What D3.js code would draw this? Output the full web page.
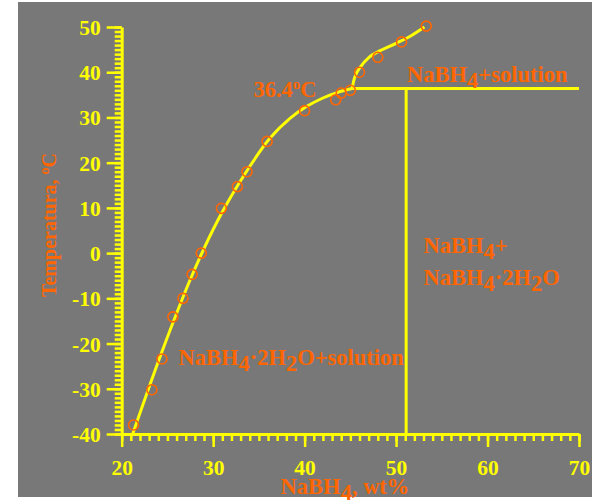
<!DOCTYPE html>
<html>
<head>
<meta charset="utf-8">
<script src="https://cdn.jsdelivr.net/npm/d3@7"></script>
<style>
  body { margin: 0; background: #fff; }
  text { font-family: "Liberation Serif", "Times New Roman", serif; font-weight: bold; }
</style>
</head>
<body>
<script>
const W = 597, H = 501;

// measured points (wt% NaBH4, temperature °C)
const ptX = [21.3, 23.3, 24.4, 25.6, 26.7, 27.7, 28.7, 30.9, 32.65, 33.7, 35.9, 40.0, 43.4, 44.0, 45.0, 46.0, 48.0, 50.6, 53.3];
const ptY = [-38, -30.2, -23.4, -14.1, -10, -4.7, 0, 9.9, 14.7, 18, 24.7, 31.5, 33.9, 35.4, 36, 40, 43.3, 46.7, 50.2];

// liquidus of the dihydrate (left branch) and of NaBH4 (right branch)
const dihydX = [21.2, 24.4, 27.8, 30.6, 33.5, 36.2, 38.4, 40.2, 42.0, 43.7, 45.2];
const dihydY = [-40, -21.8, -4.4, 7.6, 17.6, 25.4, 29.8, 32.4, 34.3, 35.6, 36.4];
const anhX = [45.2, 45.5, 46.0, 47.1, 48.0, 50.0, 51.5, 53.1];
const anhY = [36.4, 39.0, 40.9, 43.4, 44.5, 46.4, 47.9, 50.0];

// peritectic line and dihydrate composition line
const periT = 36.4;
const periX = [45.2, 70];
const dihydComp = 51.1;

const xTicks = [20, 30, 40, 50, 60, 70];
const yTicks = [-40, -30, -20, -10, 0, 10, 20, 30, 40, 50];

const yellow = '#ffff00', orange = '#ff6600';

let svg = d3.select('body').append('svg')
    .attr('width', W)
    .attr('height', H);

svg.append('rect')
    .attr('x', 18).attr('y', 2)
    .attr('width', 574).attr('height', 495)
    .attr('fill', '#787878');

let x = d3.scaleLinear().domain([20, 70]).range([121.7, 579]);
let y = d3.scaleLinear().domain([-40, 50]).range([434, 27]);

// minor ticks
svg.append('g')
    .attr('transform', `translate(0,${y(-40)})`)
    .call(d3.axisBottom(x).tickValues(d3.range(20, 71, 1)).tickSize(7).tickSizeOuter(0).tickFormat(''))
    .call(g => g.select('.domain').remove());
svg.append('g')
    .attr('transform', `translate(${x(20)},0)`)
    .call(d3.axisLeft(y).tickValues(d3.range(-40, 51, 1)).tickSize(7).tickSizeOuter(0).tickFormat(''))
    .call(g => g.select('.domain').remove());

// major ticks + labels (plain hyphen for negatives)
let xAxis = svg.append('g')
    .attr('transform', `translate(0,${y(-40)})`)
    .call(d3.axisBottom(x).tickValues(xTicks).tickSize(13).tickSizeOuter(0).tickFormat(d => String(d)));
xAxis.selectAll('text').attr('y', 41).attr('dy', 0);

let yAxis = svg.append('g')
    .attr('transform', `translate(${x(20)},0)`)
    .call(d3.axisLeft(y).tickValues(yTicks).tickSize(15).tickSizeOuter(0).tickFormat(d => String(d)));
yAxis.selectAll('text').attr('x', -21).attr('dy', '0.35em');

svg.selectAll('.tick line').attr('stroke', yellow).attr('stroke-width', 2.5);
svg.selectAll('.domain').attr('stroke', yellow).attr('stroke-width', 3);
svg.selectAll('.tick text')
    .attr('fill', yellow)
    .attr('font-size', 21.5)
    .attr('font-family', '"Liberation Serif", serif')
    .attr('font-weight', 'bold');

// lines
let line = d3.line()
    .x(d => x(d[0]))
    .y(d => y(d[1]))
    .curve(d3.curveCatmullRom);

const lineStyle = sel => sel.attr('fill', 'none').attr('stroke', yellow).attr('stroke-width', 3);

svg.append('path').attr('d', line(d3.zip(dihydX, dihydY))).call(lineStyle);
svg.append('path').attr('d', line(d3.zip(anhX, anhY))).call(lineStyle);
svg.append('path').attr('d', line(periX.map(v => [v, periT]))).call(lineStyle);
svg.append('path')
    .attr('d', d3.line()([[x(dihydComp), y(-40)], [x(dihydComp), y(periT)]]))
    .call(lineStyle);

// data points
svg.selectAll('circle.pt')
    .data(d3.zip(ptX, ptY))
    .enter()
    .append('circle')
    .attr('class', 'pt')
    .attr('cx', d => x(d[0]))
    .attr('cy', d => y(d[1]))
    .attr('r', 5)
    .attr('fill', 'none')
    .attr('stroke', orange)
    .attr('stroke-width', 1.6);

// labels; parts = [text, baseline shift, font size]
function label(px, py, parts, size, anchor) {
    let t = svg.append('text')
        .attr('x', px).attr('y', py)
        .attr('fill', orange)
        .attr('font-size', size)
        .attr('text-anchor', anchor || 'start');
    let shift = 0;
    parts.forEach(p => {
        let s = t.append('tspan').text(p[0]).attr('dy', p[1] - shift);
        if (p[2]) s.attr('font-size', p[2]);
        shift = p[1];
    });
    return t;
}

label(x(41.3), y(34.5), [['36.4', 0], ['o', -8, 15], ['C', 0]], 22.5, 'end');
label(x(51.2), y(37.8), [['NaBH', 0], ['4', 6], ['+solution', 0]], 22.5);
label(x(53.0), y(0), [['NaBH', 0], ['4', 6], ['+', 0]], 22.5);
label(x(53.0), y(-7.1), [['NaBH', 0], ['4', 6], ['\u00b72H', 0], ['2', 6], ['O', 0]], 22.5);
label(x(26.2), y(-24.8), [['NaBH', 0], ['4', 6], ['\u00b72H', 0], ['2', 6], ['O+solution', 0]], 22.5);

// axis titles
label(345, 494, [['NaBH', 0], ['4', 6], [', wt%', 0]], 22.5, 'middle');
label(0, 0, [['Temperatura, ', 0], ['o', -7, 14], ['C', 0]], 20, 'middle')
    .attr('transform', 'translate(56,225) rotate(-90)');
</script>
</body>
</html>
